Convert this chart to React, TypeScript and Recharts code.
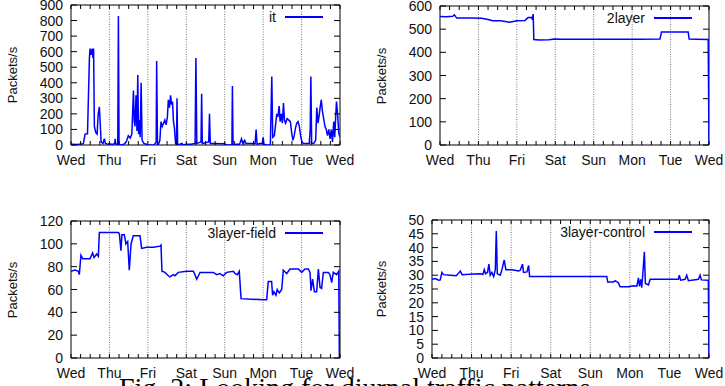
import { Line, LineChart, ReferenceArea, ReferenceLine, XAxis, YAxis } from 'recharts'

const DAY_LABELS = ['Wed', 'Thu', 'Fri', 'Sat', 'Sun', 'Mon', 'Tue', 'Wed']
const X_TICKS = Array.from({ length: 29 }, (_, i) => i * 6)
const DAY_LINES = [24, 48, 72, 96, 120, 144]

// "it" : hours since Wed 00:00, packets/s
const itHours = [
  0, 4, 7.7, 8.8, 10.3, 11.5, 11.9, 12.6, 13.2, 13.7, 14.1, 14.6, 15.5, 16.3, 17, 17.7, 18.2, 18.8, 20, 20.8, 21.5, 23,
  24, 26, 27.3, 27.6, 28, 29.2, 29.6, 30, 31.5, 33, 34.5, 35.8, 37, 38, 39, 39.5, 40, 40.6, 41.2, 41.7, 42.2, 42.7, 43.2, 43.8, 44.4, 45.5, 47,
  48, 52, 53.2, 53.5, 54, 54.5, 55.5, 56.2, 57, 57.8, 58.6, 59.4, 60.2, 60.8, 61.5, 62.2, 62.8, 63.4, 64, 64.6, 65.3, 65.9, 66.2, 66.6, 68, 69.3, 70,
  72, 75, 77.5, 78, 78.6, 80, 81.2, 81.6, 82, 84, 86, 86.5, 87, 90, 94, 96,
  97, 99, 100.5, 100.8, 101.2, 103, 105.3, 106.5, 107.3, 108.5, 109.3, 112, 115, 115.6, 116.2, 118, 119.5, 120, 120.5, 122,
  124.5, 125.4, 126, 127, 128, 128.5, 129.2, 130, 130.6, 131.3, 132, 132.7, 133.3, 134, 135, 136, 137, 137.8, 138.6, 139.4, 140.2, 141, 141.8, 142.6, 143.4, 144.2, 145.2,
  147, 148.8, 149.4, 149.8, 150.3, 151.5, 152.8, 153.5, 154.3, 155.1, 155.7, 156.3, 157, 157.8, 158.6, 159.4, 160.2, 161, 161.8, 162.6, 163.3, 164.1, 164.7, 165.4, 165.8, 166.5, 167.2, 168,
]
const itValues = [
  5, 3, 8, 70, 72, 560, 620, 580, 620, 560, 620, 120, 80, 70, 200, 245, 150, 20, 10, 40, 10, 5,
  8, 3, 10, 40, 5, 5, 830, 5, 0, 5, 20, 60, 45, 70, 350, 150, 120, 320, 90, 450, 70, 160, 50, 400, 30, 10, 5,
  0, 0, 20, 540, 10, 0, 30, 150, 120, 140, 160, 130, 180, 290, 240, 320, 260, 280, 150, 110, 10, 0, 300, 0, 5, 10, 0,
  5, 5, 10, 560, 10, 15, 20, 330, 10, 15, 20, 200, 10, 10, 8, 10,
  0, 0, 0, 380, 0, 5, 5, 40, 10, 30, 10, 10, 10, 100, 5, 10, 10, 50, 5, 0,
  0, 440, 50, 60, 150, 200, 180, 250, 150, 200, 140, 270, 160, 140, 170, 160, 150, 80, 30, 60, 110, 140, 150, 120, 60, 20, 10,
  10, 10, 100, 440, 10, 10, 30, 240, 140, 200, 250, 290, 220, 170, 120, 100, 60, 100, 40, 100, 20, 150, 50, 200, 280, 200, 80, 50,
]

const twoLayerHours = [
  0, 4, 8, 9, 10, 10.5, 20, 26, 30, 33, 38, 43.5, 48, 53, 55, 57, 57.5, 58.2, 58.6, 62, 68, 71.5, 76, 90, 110, 125,
  137.4, 138.3, 146, 155, 155.6, 160, 167.5, 168,
]
const twoLayerValues = [
  555, 554, 556, 562, 552, 548, 548, 547, 542, 536, 536, 530, 536, 537, 550, 550, 545, 565, 455, 453, 454, 458, 456, 457, 457, 456,
  458, 488, 488, 488, 458, 457, 455, 0,
]

const fieldHours = [
  0, 2.5, 4.6, 5.2, 6.2, 7.3, 11.9, 13.5, 14.4, 16, 17.1, 17.7, 24.4, 29.6, 30.2, 31.2, 31.8, 33.3, 34.3, 35.4, 36.4, 37.5, 38.9,
  43.1, 44.1, 47.3, 51.4, 55.6, 56.2, 56.8, 58.7, 60.8, 61.8, 63.9, 64.9, 67, 72.2, 76.4, 77.4, 78.5, 80.6, 88.9, 91, 93, 95.1,
  97.2, 101.4, 102.4, 103.9, 105.1, 106.2, 120.1, 122.2, 123.2, 125.3, 125.9, 126.7, 128, 128.8, 130.1, 131.6, 132.6, 134.7,
  136.8, 142, 144.1, 146.1, 148.2, 149.3, 149.9, 150.9, 152, 153.4, 154.5, 155.5, 156.5, 157.6, 160.7, 161.7, 162.8, 163.8,
  165.9, 167.2, 167.6, 168,
]
const fieldValues = [
  76, 77, 76, 73, 90, 87, 87, 92, 88, 91, 89, 110, 110, 110, 109, 94, 108, 108, 100, 102, 77, 100, 107,
  107, 96, 97, 97, 98, 99, 76, 75, 72, 71, 73, 72, 75, 76, 76, 73, 69, 75, 75, 73, 74, 72,
  75, 76, 74, 73, 76, 52, 51, 51, 67, 67, 55, 58, 55, 60, 57, 60, 77, 74,
  78, 78, 75, 78, 78, 75, 59, 69, 58, 58, 78, 62, 61, 75, 75, 73, 66, 75,
  73, 76, 0, 0,
]

const controlHours = [
  0, 2, 4, 5, 6, 7, 11.1, 14.7, 17.2, 18.2, 25.2, 29.3, 30.9, 31.7, 32.5, 33.7, 34.5, 35.3, 36.3, 37.4, 38.4, 39, 39.6,
  41.4, 42.4, 43.8, 44.8, 48.5, 52.5, 53.5, 54.9, 55.5, 57.6, 58.6, 59.2, 77.7, 97.9, 106, 106.6, 110.1, 111.1, 113.1,
  114.1, 119.1, 122.1, 124.2, 125.2, 125.8, 126.6, 127.2, 127.8, 128.8, 129.4, 131.3, 132.3, 149.4, 150, 150.8, 153.5,
  154.5, 155.5, 161.6, 162.6, 163.4, 167.6, 168,
]
const controlValues = [
  28.5, 28.8, 28.2, 28.3, 31, 30.2, 30, 29.8, 31.5, 30.2, 30.4, 30.5, 30.3, 32, 30.5, 31, 34, 30, 31, 29.5, 32, 46, 30.5,
  30, 32, 35.5, 32, 32, 31.5, 31.8, 34, 31, 31.2, 33.5, 29.5, 29.5, 29.5, 29.5, 27.5, 27.5, 28, 27.2,
  25.8, 25.8, 26.2, 26, 29, 26, 28.5, 25.5, 30, 38.5, 27, 26.5, 28.5, 28.5, 30, 28.2, 28.5,
  30, 28, 28.5, 30, 28.3, 28.2, 0,
]

const ticksItY = [0, 100, 200, 300, 400, 500, 600, 700, 800, 900]
const ticks2LayerY = [0, 100, 200, 300, 400, 500, 600]
const ticksFieldY = [0, 20, 40, 60, 80, 100, 120]
const ticksControlY = [0, 5, 10, 15, 20, 25, 30, 35, 40, 45, 50]

const FONT = '"Liberation Sans", Arial, Helvetica, sans-serif'
const BLUE = '#0000ff'
const X_AXIS_H = 30

function zip(hours: number[], values: number[]) {
  return hours.map((h, i) => ({ h, v: values[i] }))
}

interface PanelProps {
  name: string
  left: number
  top: number
  width: number
  height: number
  yWidth: number
  mTop: number
  mRight: number
  mBottom: number
  data: { h: number; v: number }[]
  yTicks: number[]
}

function Panel(p: PanelProps) {
  const yMax = p.yTicks[p.yTicks.length - 1]
  const plotL = p.yWidth
  const plotR = p.width - p.mRight
  const plotT = p.mTop
  const plotB = p.height - p.mBottom - X_AXIS_H

  const renderXTick = (props: any) => {
    const x = props.x
    const h = props.payload.value
    const isDay = h % 24 === 0
    return (
      <g>
        <line x1={x} x2={x} y1={plotB} y2={plotB - 4} stroke="#000" />
        <line x1={x} x2={x} y1={plotT} y2={plotT + 4} stroke="#000" />
        {isDay && (
          <text x={x} y={plotB + 20} textAnchor="middle" fontSize={14} fontFamily={FONT} fill="#111">
            {DAY_LABELS[h / 24]}
          </text>
        )}
      </g>
    )
  }

  const renderYTick = (props: any) => {
    const y = props.y
    return (
      <g>
        <line x1={plotL} x2={plotL + 6} y1={y} y2={y} stroke="#000" />
        <line x1={plotR} x2={plotR - 6} y1={y} y2={y} stroke="#000" />
        <text x={plotL - 8} y={y} dy="0.36em" textAnchor="end" fontSize={14} fontFamily={FONT} fill="#111">
          {props.payload.value}
        </text>
      </g>
    )
  }

  const midY = (plotT + plotB) / 2

  return (
    <div style={{ position: 'absolute', left: p.left, top: p.top, width: p.width, height: p.height }}>
      <LineChart
        width={p.width}
        height={p.height}
        data={p.data}
        margin={{ top: p.mTop, right: p.mRight, bottom: p.mBottom, left: 0 }}
      >
        <XAxis
          dataKey="h"
          type="number"
          domain={[0, 168]}
          ticks={X_TICKS}
          interval={0}
          height={X_AXIS_H}
          axisLine={false}
          tickLine={false}
          tick={renderXTick}
          allowDataOverflow
        />
        <YAxis
          type="number"
          domain={[0, yMax]}
          ticks={p.yTicks}
          interval={0}
          width={p.yWidth}
          axisLine={false}
          tickLine={false}
          tick={renderYTick}
          allowDataOverflow
        />
        {DAY_LINES.map((d) => (
          <ReferenceLine key={d} x={d} stroke="#777" strokeDasharray="1 1.5" />
        ))}
        <ReferenceArea x1={0} x2={168} y1={0} y2={yMax} stroke="#000" strokeWidth={1} fill="none" fillOpacity={0} />
        <Line
          type="linear"
          dataKey="v"
          stroke={BLUE}
          strokeWidth={1.5}
          dot={false}
          isAnimationActive={false}
        />
      </LineChart>
      <div
        style={{
          position: 'absolute',
          left: p.left === 0 ? 13 - 50 : 20 - 50,
          top: midY - 8,
          width: 100,
          height: 16,
          lineHeight: '16px',
          textAlign: 'center',
          transform: 'rotate(-90deg)',
          fontFamily: FONT,
          fontSize: 13,
          color: '#111',
        }}
      >
        Packets/s
      </div>
      <div
        style={{
          position: 'absolute',
          right: p.width - plotR + 64,
          top: plotT + 12 - 9,
          lineHeight: '18px',
          fontFamily: FONT,
          fontSize: 14,
          color: '#111',
          whiteSpace: 'nowrap',
        }}
      >
        {p.name}
      </div>
      <div
        style={{
          position: 'absolute',
          left: plotR - 55,
          top: plotT + 11,
          width: 38,
          height: 2,
          background: BLUE,
        }}
      />
    </div>
  )
}

export default function App() {
  return (
    <div
      style={{
        position: 'absolute',
        left: 0,
        top: 0,
        width: 725,
        height: 386,
        overflow: 'hidden',
        background: '#fff',
      }}
    >
      <Panel
        name="it"
        left={0}
        top={0}
        width={360}
        height={190}
        yWidth={71}
        mTop={5}
        mRight={20}
        mBottom={15}
        data={zip(itHours, itValues)}
        yTicks={ticksItY}
      />
      <Panel
        name="2layer"
        left={362}
        top={0}
        width={363}
        height={190}
        yWidth={78}
        mTop={6}
        mRight={16}
        mBottom={15}
        data={zip(twoLayerHours, twoLayerValues)}
        yTicks={ticks2LayerY}
      />
      <Panel
        name="3layer-field"
        left={0}
        top={200}
        width={360}
        height={203}
        yWidth={71}
        mTop={21}
        mRight={20}
        mBottom={15}
        data={zip(fieldHours, fieldValues)}
        yTicks={ticksFieldY}
      />
      <Panel
        name="3layer-control"
        left={362}
        top={200}
        width={363}
        height={203}
        yWidth={70}
        mTop={20}
        mRight={16}
        mBottom={15}
        data={zip(controlHours, controlValues)}
        yTicks={ticksControlY}
      />
      <svg width={725} height={386} style={{ position: 'absolute', left: 0, top: 0, pointerEvents: 'none' }}>
        <text x={119} y={397} fontSize={28} fontFamily='"Liberation Serif", "DejaVu Serif", serif' fill="#000">
          Fig. 2: Looking for diurnal traffic patterns
        </text>
      </svg>
    </div>
  )
}
